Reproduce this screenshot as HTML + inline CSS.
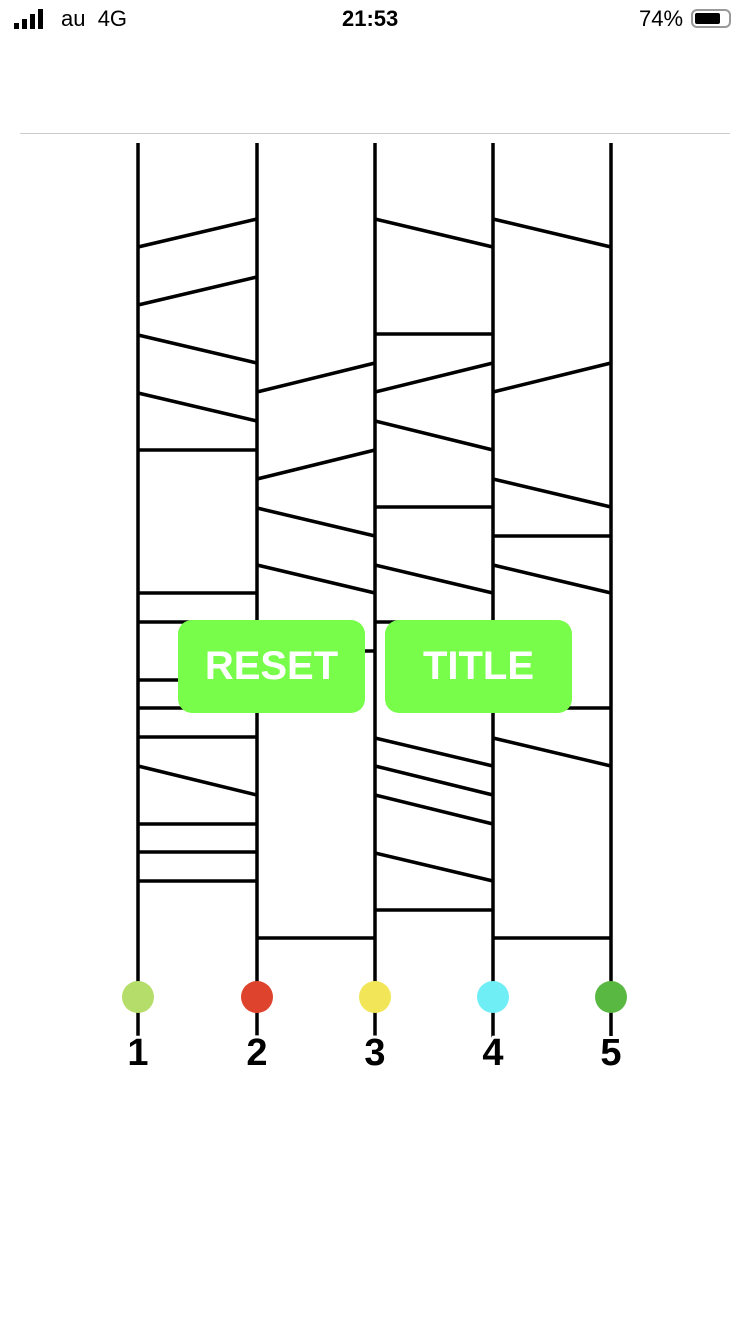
<!DOCTYPE html><html><head><style>
body{margin:0;width:750px;height:1334px;background:#fff;position:relative;overflow:hidden;font-family:"Liberation Sans",sans-serif}
.btn{position:absolute;top:620px;width:187px;height:93px;background:#78fd4a;border-radius:14px;color:#fff;font-weight:bold;font-size:40px;text-align:center;line-height:93px}
.sb{position:absolute;top:6px;font-size:22px;color:#000}
</style></head><body>
<div class="sb" style="left:14px;top:8px"><svg width="34" height="22"><rect x="0" y="15" width="5" height="6" fill="#000"/><rect x="8" y="11" width="5" height="10" fill="#000"/><rect x="16" y="6" width="5" height="15" fill="#000"/><rect x="24" y="1" width="5" height="20" fill="#000"/></svg></div>
<div class="sb" style="left:61px">au&nbsp;&nbsp;4G</div>
<div class="sb" style="left:342px;font-weight:bold">21:53</div>
<div class="sb" style="left:639px">74%</div>
<div style="position:absolute;left:691px;top:9px;width:40px;height:19px;border:2px solid #999;border-radius:6px;box-sizing:border-box"><div style="position:absolute;left:2px;top:2px;width:25px;height:11px;background:#000;border-radius:2px"></div></div>
<div style="position:absolute;left:20px;top:133px;width:710px;height:1px;background:#ccc"></div>
<svg width="750" height="1334" style="position:absolute;left:0;top:0" stroke="#000" stroke-width="3.5" fill="none">
<g id="v"><line x1="138" y1="143" x2="138" y2="1040"/><line x1="257" y1="143" x2="257" y2="1040"/><line x1="375" y1="143" x2="375" y2="1040"/><line x1="493" y1="143" x2="493" y2="1040"/><line x1="611" y1="143" x2="611" y2="1040"/></g>
<path d="M138 247L257 219M138 305L257 277M138 335L257 363M138 393L257 421M138 450H257M138 593H257M138 622H257M138 680H257M138 708H257M138 737H257M138 766L257 795M138 824H257M138 852H257M138 881H257
M257 392L375 363M257 479L375 450M257 508L375 536M257 565L375 593M257 651H375M257 938H375
M375 219L493 247M375 334H493M375 392L493 363M375 421L493 450M375 507H493M375 565L493 593M375 622H493M375 738L493 766M375 766L493 795M375 795L493 824M375 853L493 881M375 910H493
M493 219L611 247M493 392L611 363M493 479L611 507M493 536H611M493 565L611 593M493 708H611M493 738L611 766M493 938H611"/>
<g stroke="none"><circle cx="138" cy="997" r="16" fill="#b5dd6a"/><circle cx="257" cy="997" r="16" fill="#de442d"/><circle cx="375" cy="997" r="16" fill="#f2e658"/><circle cx="493" cy="997" r="16" fill="#70eef5"/><circle cx="611" cy="997" r="16" fill="#58b842"/></g>
<g stroke="none" fill="#000" font-family="Liberation Sans" font-weight="bold" font-size="38" text-anchor="middle"><text x="138" y="1065" stroke="#fff" stroke-width="6" paint-order="stroke">1</text><text x="257" y="1065" stroke="#fff" stroke-width="6" paint-order="stroke">2</text><text x="375" y="1065" stroke="#fff" stroke-width="6" paint-order="stroke">3</text><text x="493" y="1065" stroke="#fff" stroke-width="6" paint-order="stroke">4</text><text x="611" y="1065" stroke="#fff" stroke-width="6" paint-order="stroke">5</text></g>
</svg>
<div class="btn" style="left:178px">RESET</div>
<div class="btn" style="left:385px">TITLE</div>
</body></html>
